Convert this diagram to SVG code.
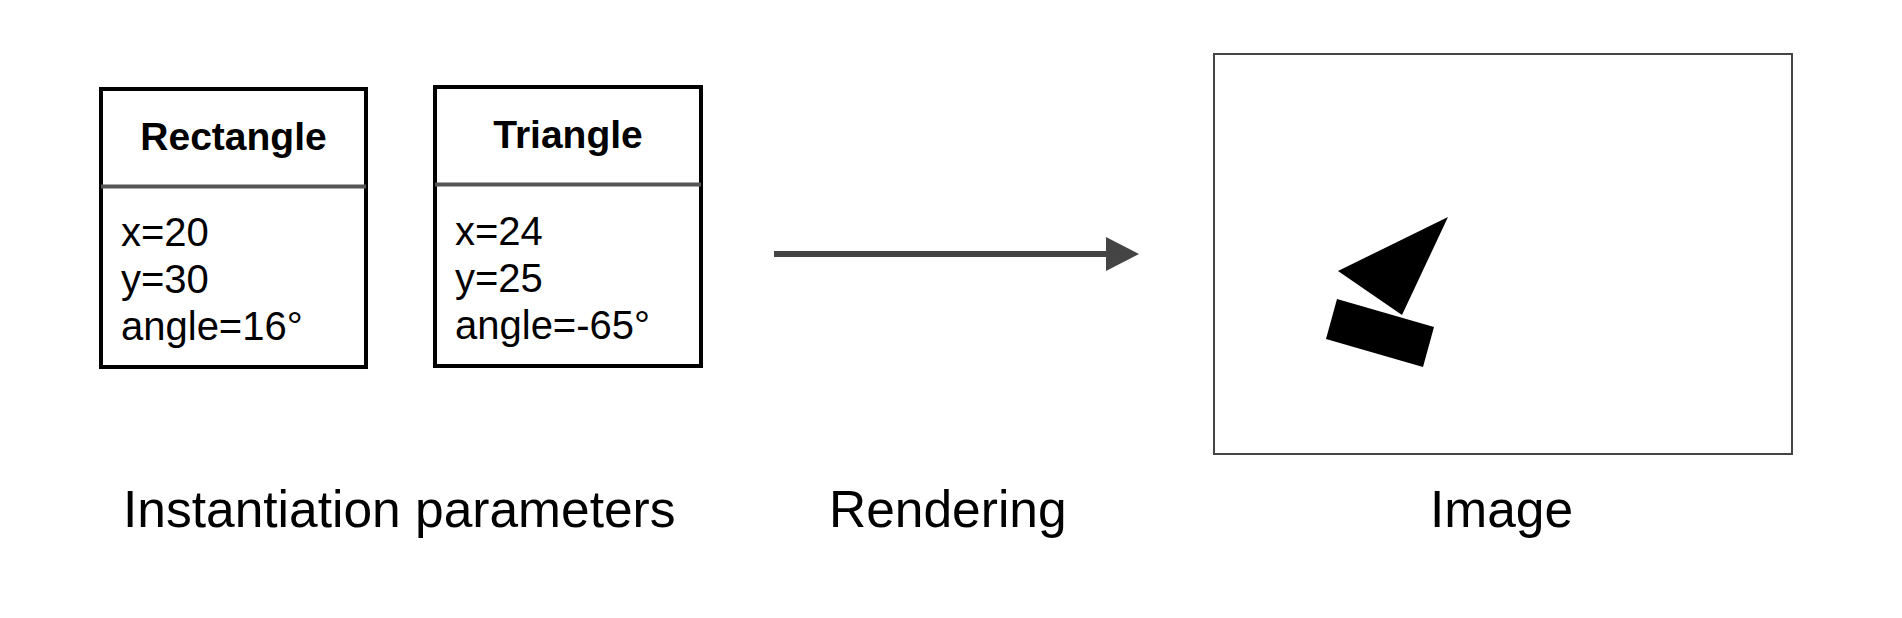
<svg xmlns="http://www.w3.org/2000/svg" width="1902" height="618" viewBox="0 0 1902 618">
<style>
.box{fill:#fff;stroke:#000;stroke-width:4}
.div{stroke:#555;stroke-width:4}
.hdr{font-family:"Liberation Sans",Arial,sans-serif;font-weight:bold;font-size:39px;fill:#000;text-anchor:middle}
.body{font-family:"Liberation Sans",Arial,sans-serif;font-size:40px;fill:#000}
.lbl{font-family:"Liberation Sans",Arial,sans-serif;font-size:51.5px;fill:#000}
.conn{stroke:#444;stroke-width:6;fill:none}
.shape{fill:#000}
</style>
<rect width="1902" height="618" fill="#fff"/>
<g id="rectangle-node">
<rect class="box" x="101" y="89" width="265" height="278"/>
<line class="div" x1="101" y1="186.5" x2="366" y2="186.5"/>
<text class="hdr" x="233.5" y="150">Rectangle</text>
<text class="body" x="121" y="246">x=20</text>
<text class="body" x="121" y="293">y=30</text>
<text class="body" x="121" y="340">angle=16°</text>
</g>
<g id="triangle-node">
<rect class="box" x="435" y="87" width="266" height="279"/>
<line class="div" x1="435" y1="184.5" x2="701" y2="184.5"/>
<text class="hdr" x="568" y="148">Triangle</text>
<text class="body" x="455" y="245">x=24</text>
<text class="body" x="455" y="292">y=25</text>
<text class="body" x="455" y="339">angle=-65°</text>
</g>
<g id="connectors">
<line class="conn" x1="774" y1="254" x2="1108" y2="254"/>
<polygon fill="#444" points="1106,237 1139,254 1106,271"/>
</g>
<g id="image-node">
<rect x="1214" y="54" width="578" height="400" fill="#fff" stroke="#444" stroke-width="2"/>
<polygon class="shape" points="1448,217 1338,271 1402,315"/>
<polygon class="shape" points="1337,299 1434,327 1423,367 1326,339"/>
</g>
<g id="labels">
<text class="lbl" x="123" y="527">Instantiation parameters</text>
<text class="lbl" x="829" y="527">Rendering</text>
<text class="lbl" x="1430" y="527">Image</text>
</g>
</svg>
